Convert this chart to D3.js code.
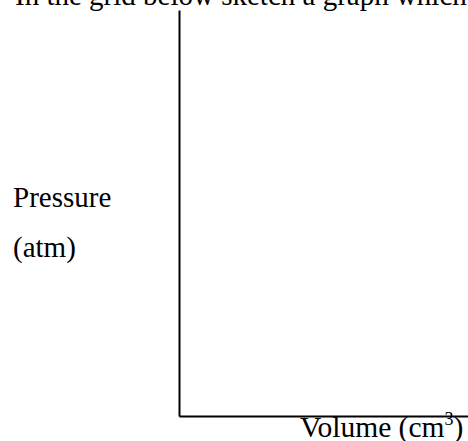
<!DOCTYPE html>
<html>
<head>
<meta charset="utf-8">
<script src="https://cdn.jsdelivr.net/npm/d3@7"></script>
<style>
  html, body { margin: 0; padding: 0; background: #fff; }
  svg { display: block; }
  text { font-family: "Liberation Serif", "Times New Roman", serif; fill: #000; }
</style>
</head>
<body>
<script>
// Data: an empty sketch grid (no series plotted)
const instruction = "In the grid below sketch a graph which";
const yLabelLines = ["Pressure", "(atm)"];
const xLabel = "Volume (cm";
const xLabelSup = "3";
const xTicks = [];
const yTicks = [];
const xDomain = [0, 1];
const yDomain = [0, 1];

const W = 468, H = 441;
const svg = d3.select("body").append("svg").attr("width", W).attr("height", H);

const x = d3.scaleLinear().domain(xDomain).range([179, 470]);
const y = d3.scaleLinear().domain(yDomain).range([416, 10]);

// Instruction text, cut off by top edge
svg.append("text")
  .attr("x", 15).attr("y", 5)
  .attr("font-size", 29)
  .text(instruction);

// Y axis
const yAxis = d3.axisLeft(y).tickValues(yTicks).tickSize(0).tickSizeOuter(0);
const gy = svg.append("g").attr("transform", `translate(${x(xDomain[0])},0)`).call(yAxis);
gy.select(".domain").attr("stroke", "#000").attr("stroke-width", 2);

// X axis
const xAxis = d3.axisBottom(x).tickValues(xTicks).tickSize(0).tickSizeOuter(0);
const gx = svg.append("g").attr("transform", `translate(0,${y(yDomain[0])})`).call(xAxis);
gx.select(".domain").attr("stroke", "#000").attr("stroke-width", 2);

// Y label
svg.append("text").attr("x", 13).attr("y", 207).attr("font-size", 29).text(yLabelLines[0]);
svg.append("text").attr("x", 13).attr("y", 257).attr("font-size", 29).text(yLabelLines[1]);

// X label
const xl = svg.append("text").attr("x", 300).attr("y", 437).attr("font-size", 29.5);
xl.append("tspan").text(xLabel);
xl.append("tspan").attr("font-size", 18).attr("dy", -12).text(xLabelSup);
xl.append("tspan").attr("dy", 12).text(")");
</script>
</body>
</html>
